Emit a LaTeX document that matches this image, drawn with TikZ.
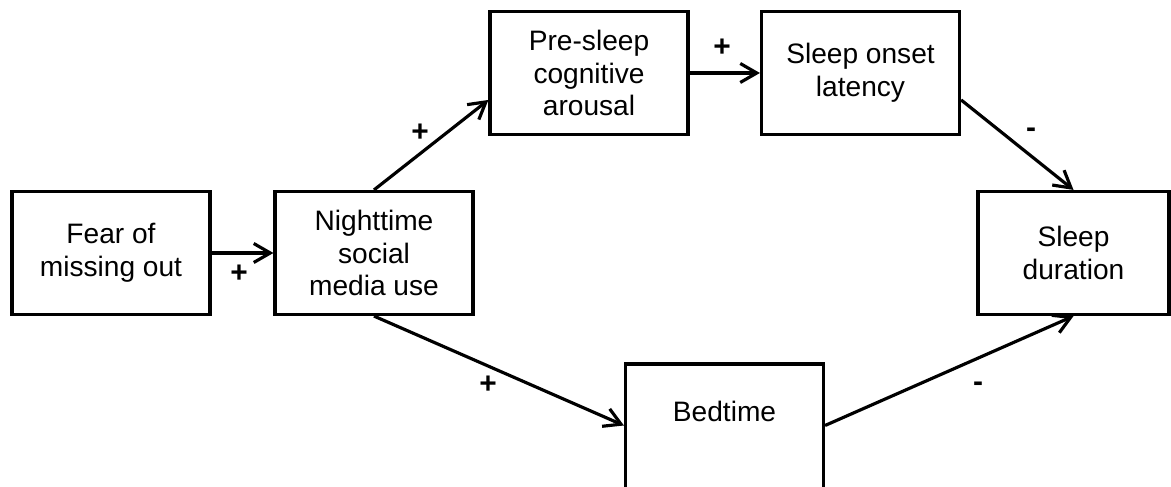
\documentclass[tikz,border=0pt]{standalone}
\usepackage{fontspec}
\setmainfont{Liberation Sans}
\usetikzlibrary{arrows.meta}

\tikzset{
  box/.style={draw, line width=1.8pt, minimum width=3.96cm, minimum height=2.46cm,
    align=center, inner sep=0pt, font=\fontsize{16}{18.7}\selectfont},
  sign/.style={inner sep=0pt, font=\fontsize{17}{18.7}\selectfont\bfseries},
  link/.style={line width=1.8pt, -{Straight Barb[length=3.3mm, width=3.8mm]}}
}

\begin{document}
\begin{tikzpicture}
			%%%%% BOXES %%%%%
			\useasboundingbox (0, 0) rectangle (23.42, 9.74);
			
			\node[box] (fomo) at (2.22, 4.68) {Fear of\\missing out};
			\node[box] (night) at (7.48, 4.68) {Nighttime\\social\\media use};
			\node[box] (arousal) at (11.78, 8.28) {Pre-sleep\\cognitive\\arousal};
			\node[box] (latency) at (17.21, 8.28) {Sleep onset\\latency};
			\node[box, minimum width=3.82cm] (duration) at (21.47, 4.68) {Sleep\\duration};
			\node[box, minimum height=2.6cm, text height=0.45cm, text depth=0.73cm] (bedtime) at (14.49, 1.16) {Bedtime};
			
			%%%%% ARROWS %%%%%
			\draw[link] (fomo.east) -- (night.west);
			\draw[link] (night.north) -- (arousal.195);
			\draw[link] (arousal.east) -- (latency.west);
			\draw[link] (latency.-15) -- (duration.north);
			\draw[link] (night.south) -- (bedtime.178);
			\draw[link] (bedtime.2) -- (duration.south);
			
			%%%%% SIGNS %%%%%
			\node[sign] (s1) at (4.78, 4.26) {+};
			\node[sign] (s2) at (8.40, 7.08) {+};
			\node[sign] (s3) at (14.44, 8.78) {+};
			\node[sign] (s4) at (20.62, 7.08) {-};
			\node[sign] (s5) at (9.76, 2.04) {+};
			\node[sign] (s6) at (19.56, 2.00) {-};
		\end{tikzpicture}
\end{document}
